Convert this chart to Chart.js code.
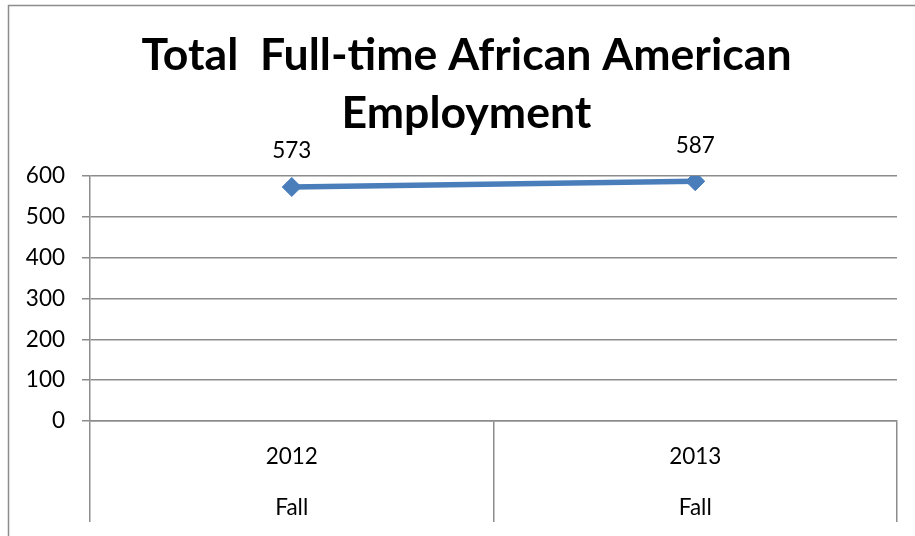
<!DOCTYPE html>
<html>
<head>
<meta charset="utf-8">
<script src="https://cdn.jsdelivr.net/npm/chart.js@4/dist/chart.umd.min.js"></script>
<style>
  html, body { margin: 0; padding: 0; background: #fff; }
  #wrap { width: 915px; height: 536px; position: relative; }
</style>
</head>
<body>
<div id="wrap"><canvas id="c" width="915" height="536"></canvas></div>
<script>
// Fall headcounts of full-time African American employees
const years = ['2012', '2013'];
const terms = ['Fall', 'Fall'];
const employees = [573, 587];
const yTicks = [0, 100, 200, 300, 400, 500, 600];

const GRID = '#8c8c8c';
const LINE = '#4a7ebb';
const FONT = 'Lato, "Open Sans", sans-serif';

// Value labels above each point, plus the frame around the chart
const extras = {
  id: 'extras',
  beforeDraw(chart) {
    const ctx = chart.ctx;
    ctx.save();
    ctx.strokeStyle = GRID;
    ctx.lineWidth = 1.5;
    ctx.strokeRect(8.5, 5.5, 1200, 1200);
    ctx.restore();
  },
  afterDatasetsDraw(chart) {
    const ctx = chart.ctx;
    const meta = chart.getDatasetMeta(0);
    ctx.save();
    ctx.font = '22.5px ' + FONT;
    ctx.fillStyle = '#000';
    ctx.textAlign = 'center';
    ctx.textBaseline = 'middle';
    meta.data.forEach((pt, i) => {
      ctx.fillText(String(employees[i]), pt.x, pt.y - 36);
    });
    ctx.restore();
  }
};

new Chart(document.getElementById('c'), {
  type: 'line',
  data: {
    labels: years.map((y, i) => [y, terms[i]]),
    datasets: [{
      data: employees,
      yAxisID: 'y',
      borderColor: LINE,
      backgroundColor: LINE,
      borderWidth: 5.5,
      pointStyle: 'rectRot',
      pointRadius: 9.5,
      pointBorderWidth: 1,
      pointBackgroundColor: LINE,
      pointBorderColor: LINE,
      tension: 0,
      fill: false
    }]
  },
  options: {
    responsive: false,
    animation: false,
    devicePixelRatio: 1,
    layout: { padding: { left: 20, right: 2, top: 5, bottom: 0 } },
    plugins: {
      legend: { display: false },
      tooltip: { enabled: false },
      title: {
        display: true,
        text: ['Total  Full-time African American', 'Employment'],
        color: '#000',
        font: { family: FONT, size: 44.6, weight: 'bold', lineHeight: 1.3 },
        padding: { top: 22, bottom: 33 }
      }
    },
    scales: {
      x: {
        type: 'category',
        offset: true,
        afterFit(s) { s.height = 115; },
        border: { display: true, color: GRID, width: 1.5 },
        grid: {
          offset: true,
          drawOnChartArea: false,
          drawTicks: true,
          tickLength: 101,
          color: GRID,
          lineWidth: 1.5
        },
        ticks: {
          color: '#000',
          font: { family: FONT, size: 22.5, lineHeight: 2.27 },
          padding: -91,
          maxRotation: 0,
          autoSkip: false
        }
      },
      y: {
        min: yTicks[0],
        max: yTicks[yTicks.length - 1],
        afterFit(s) { s.width = 70; },
        afterBuildTicks(s) { s.ticks = yTicks.map(v => ({ value: v })); },
        border: { display: true, color: GRID, width: 1.5 },
        grid: {
          color: GRID,
          lineWidth: 1.5,
          drawTicks: true,
          tickLength: 8
        },
        ticks: {
          color: '#000',
          font: { family: FONT, size: 22.5 },
          padding: 17
        }
      },
      // blank right-hand margin strip
      yRight: {
        position: 'right',
        min: yTicks[0],
        max: yTicks[yTicks.length - 1],
        afterFit(s) { s.width = 16; },
        border: { display: false },
        grid: { display: false },
        ticks: { display: false }
      }
    }
  },
  plugins: [extras]
});
</script>
</body>
</html>
